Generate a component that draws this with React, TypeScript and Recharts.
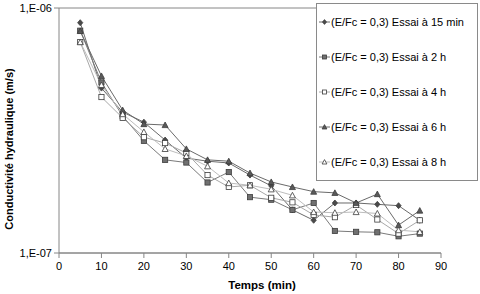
import React from 'react';
import { LineChart, Line, XAxis, YAxis, CartesianGrid, Legend } from 'recharts';

// temps (min)
const temps = [5, 10, 15, 20, 25, 30, 35, 40, 45, 50, 55, 60, 65, 70, 75, 80, 85];

// conductivité hydraulique, en unités de 1e-7 m/s
const essai15min = [8.71, 4.71, 3.76, 3.42, 2.89, 2.44, 2.37, 2.33, 2.08, 1.88, 1.5, 1.36, 1.6, 1.6, 1.58, 1.56, 1.36];
const essai2h = [8.08, 4.97, 3.62, 2.87, 2.4, 2.34, 1.94, 2.14, 1.69, 1.65, 1.5, 1.6, 1.23, 1.22, 1.215, 1.17, 1.2];
const essai4h = [7.26, 4.33, 3.56, 2.97, 2.81, 2.56, 2.08, 1.86, 1.89, 1.68, 1.61, 1.43, 1.4, 1.57, 1.37, 1.2, 1.36];
const essai6h = [8.06, 5.28, 3.83, 3.36, 3.33, 2.66, 2.4, 2.37, 2.12, 1.95, 1.86, 1.78, 1.76, 1.6, 1.74, 1.3, 1.49];
const essai8h = [7.26, 4.85, 3.69, 3.12, 2.66, 2.49, 2.26, 1.93, 1.89, 1.82, 1.72, 1.47, 1.46, 1.47, 1.45, 1.24, 1.22];

const xTicks = [0, 10, 20, 30, 40, 50, 60, 70, 80, 90];
const yTicks = [1e-7, 1e-6];
const yTickLabels = ['1,E-07', '1,E-06'];

type MarkerKind = 'diamond' | 'square' | 'openSquare' | 'triangle' | 'openTriangle';

const series: { key: string; name: string; values: number[]; stroke: string; marker: MarkerKind }[] = [
  { key: 'e15', name: '(E/Fc = 0,3) Essai à 15 min', values: essai15min, stroke: '#6a6a6a', marker: 'diamond' },
  { key: 'e2', name: '(E/Fc = 0,3) Essai à 2 h', values: essai2h, stroke: '#7a7a7a', marker: 'square' },
  { key: 'e4', name: '(E/Fc = 0,3) Essai à 4 h', values: essai4h, stroke: '#a8a8a8', marker: 'openSquare' },
  { key: 'e6', name: '(E/Fc = 0,3) Essai à 6 h', values: essai6h, stroke: '#6a6a6a', marker: 'triangle' },
  { key: 'e8', name: '(E/Fc = 0,3) Essai à 8 h', values: essai8h, stroke: '#bdbdbd', marker: 'openTriangle' },
];

const data = temps.map((t, i) => {
  const row: Record<string, number> = { t };
  series.forEach((s) => {
    row[s.key] = s.values[i] * 1e-7;
  });
  return row;
});

const FONT = '"Liberation Sans", Arial, sans-serif';
const EDGE = '#3c3c3c';

function Marker({ kind, cx, cy, r = 2.6 }: { kind: MarkerKind; cx: number; cy: number; r?: number }) {
  switch (kind) {
    case 'diamond':
      return (
        <polygon
          points={`${cx},${cy - r - 0.4} ${cx + r},${cy} ${cx},${cy + r + 0.4} ${cx - r},${cy}`}
          fill="#4a4a4a"
          stroke={EDGE}
          strokeWidth={0.8}
        />
      );
    case 'square':
      return <rect x={cx - r} y={cy - r} width={2 * r} height={2 * r} fill="#707070" stroke={EDGE} strokeWidth={0.8} />;
    case 'openSquare':
      return <rect x={cx - r} y={cy - r} width={2 * r} height={2 * r} fill="#fff" stroke={EDGE} strokeWidth={0.8} />;
    case 'triangle':
      return (
        <polygon
          points={`${cx},${cy - r - 0.4} ${cx + r + 0.4},${cy + r} ${cx - r - 0.4},${cy + r}`}
          fill="#5a5a5a"
          stroke={EDGE}
          strokeWidth={0.8}
        />
      );
    default:
      return (
        <polygon
          points={`${cx},${cy - r - 0.4} ${cx + r + 0.4},${cy + r} ${cx - r - 0.4},${cy + r}`}
          fill="#fff"
          stroke={EDGE}
          strokeWidth={0.8}
        />
      );
  }
}

function LegendBox() {
  return (
    <div
      style={{
        width: 160,
        height: 176,
        border: '1px solid #8a8a8a',
        background: '#fff',
        fontFamily: FONT,
        fontSize: 11,
        color: '#000',
      }}
    >
      {series.map((s) => (
        <div key={s.key} style={{ height: 35.2, display: 'flex', alignItems: 'center', whiteSpace: 'nowrap' }}>
          <svg width={11} height={10} style={{ marginLeft: 2, flex: 'none' }}>
            <line x1={0} y1={5} x2={11} y2={5} stroke={s.stroke} strokeWidth={1} />
            <Marker kind={s.marker} cx={5.5} cy={5} r={2} />
          </svg>
          <span style={{ marginLeft: 1 }}>{s.name}</span>
        </div>
      ))}
    </div>
  );
}

export default function App() {
  return (
    <div style={{ position: 'absolute', left: 0, top: 0, width: 480, height: 294, background: '#fff' }}>
      <LineChart width={480} height={294} data={data} margin={{ top: 8, right: 39, bottom: 0, left: 0 }}>
        <CartesianGrid vertical={false} stroke="#868686" strokeDasharray="" />
        <XAxis
          dataKey="t"
          type="number"
          domain={[0, 90]}
          ticks={xTicks}
          height={41}
          tickSize={5}
          tickMargin={4}
          stroke="#868686"
          tick={{ fontSize: 11, fill: '#000', fontFamily: FONT }}
          label={() => (
            <text x={262} y={289} textAnchor="middle" fontFamily={FONT} fontSize={11.5} fontWeight="bold" fill="#000">
              Temps (min)
            </text>
          )}
        />
        <YAxis
          scale="log"
          domain={[1e-7, 1e-6]}
          ticks={yTicks}
          width={59}
          tickSize={5}
          stroke="#868686"
          allowDataOverflow
          tick={{ fontSize: 11, fill: '#000', fontFamily: FONT }}
          tickFormatter={(v: number) => yTickLabels[yTicks.indexOf(v)] ?? ''}
          label={() => (
            <text
              x={13}
              y={149}
              transform="rotate(-90 13 149)"
              textAnchor="middle"
              fontFamily={FONT}
              fontSize={11}
              fontWeight="bold"
              fill="#000"
            >
              Conductivité hydraulique (m/s)
            </text>
          )}
        />
        <Legend
          layout="vertical"
          align="center"
          verticalAlign="middle"
          wrapperStyle={{ left: 316, top: 3, width: 162 }}
          content={() => <LegendBox />}
        />
        {series.map((s) => (
          <Line
            key={s.key}
            dataKey={s.key}
            name={s.name}
            type="linear"
            stroke={s.stroke}
            strokeWidth={1}
            isAnimationActive={false}
            dot={(p: any) => <Marker key={`${s.key}-${p.index}`} kind={s.marker} cx={p.cx} cy={p.cy} />}
            activeDot={false}
          />
        ))}
      </LineChart>
    </div>
  );
}
